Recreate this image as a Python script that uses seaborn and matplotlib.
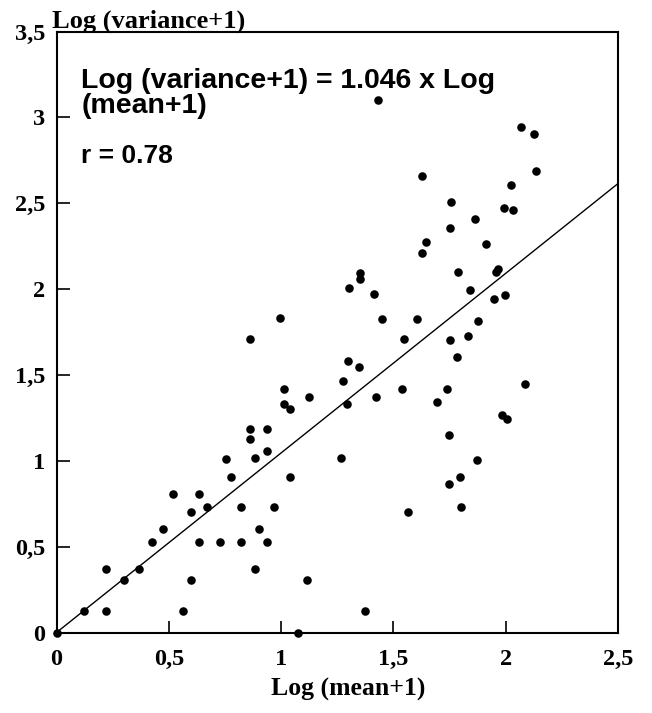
import matplotlib
matplotlib.use("Agg")
import matplotlib.pyplot as plt
import seaborn as sns
import pandas as pd
import numpy as np

log_mean = [0.000, 0.124, 0.220, 0.220, 0.300, 0.367, 0.426, 0.475, 0.520, 0.563,
            0.600, 0.600, 0.634, 0.634, 0.668, 0.726, 0.753, 0.776, 0.821, 0.821,
            0.862, 0.862, 0.862, 0.882, 0.882, 0.901, 0.936, 0.936, 0.936, 0.967,
            0.997, 1.012, 1.012, 1.039, 1.039, 1.076, 1.113, 1.122, 1.267,
            1.429, 2.068, 2.127, 2.136, 1.627, 2.022, 1.756, 1.994, 2.034, 1.862,
            1.750, 1.911, 1.647, 1.627, 1.353, 1.353, 1.304, 1.412, 1.789, 1.967,
            1.955, 1.842, 1.946, 1.996, 1.449, 1.605, 1.875, 1.549, 1.750, 1.832,
            1.783, 1.298, 1.347,
            1.276, 1.291, 1.423, 1.537, 1.740, 1.696, 2.085, 1.982, 2.005, 1.745,
            1.871, 1.795, 1.747, 1.799, 1.565, 1.372]
log_variance = [0.000, 0.127, 0.127, 0.370, 0.304, 0.370, 0.525, 0.604, 0.804, 0.127,
                0.304, 0.701, 0.804, 0.525, 0.729, 0.525, 1.013, 0.905, 0.729, 0.525,
                1.712, 1.186, 1.126, 1.016, 0.370, 0.604, 1.186, 1.055, 0.525, 0.729,
                1.832, 1.421, 1.330, 1.301, 0.905, 0.000, 0.304, 1.369, 1.016,
                3.100, 2.944, 2.902, 2.688, 2.661, 2.605, 2.510, 2.475, 2.463, 2.409,
                2.356, 2.265, 2.273, 2.213, 2.091, 2.056, 2.005, 1.974, 2.097, 2.116,
                2.097, 1.994, 1.941, 1.963, 1.823, 1.823, 1.815, 1.710, 1.703, 1.728,
                1.602, 1.582, 1.549,
                1.464, 1.330, 1.369, 1.421, 1.421, 1.343, 1.448, 1.266, 1.241, 1.148,
                1.004, 0.905, 0.866, 0.729, 0.701, 0.125]

slope = 1.046
x_ticks = [0, 0.5, 1, 1.5, 2, 2.5]
x_tick_labels = ["0", "0,5", "1", "1,5", "2", "2,5"]
y_ticks = [0, 0.5, 1, 1.5, 2, 2.5, 3, 3.5]
y_tick_labels = ["0", "0,5", "1", "1,5", "2", "2,5", "3", "3,5"]
equation_lines = ["Log (variance+1) = 1.046 x Log", "(mean+1)"]
r_text = "r = 0.78"

df = pd.DataFrame({"log_mean": log_mean, "log_variance": log_variance})
line_x = np.array([0.0, 2.5])
line_df = pd.DataFrame({"x": line_x, "y": slope * line_x})

sns.set_theme(style="white")
serif = ["Liberation Serif", "DejaVu Serif"]
sans = ["Liberation Sans", "DejaVu Sans"]

fig = plt.figure(figsize=(6.52, 7.13), dpi=100)
ax = fig.add_axes([0.0867, 0.1129, 0.8613, 0.8429])

sns.lineplot(data=line_df, x="x", y="y", ax=ax, color="black", linewidth=1.0)
sns.scatterplot(data=df, x="log_mean", y="log_variance", ax=ax, color="black",
                s=38, edgecolor="black", linewidth=0, zorder=3, clip_on=False)

ax.set_xlim(0, 2.5)
ax.set_ylim(0, 3.5)
ax.set_xticks(x_ticks)
ax.set_xticklabels(x_tick_labels, fontfamily=serif, fontweight="bold", fontsize=17.5)
ax.set_yticks(y_ticks)
ax.set_yticklabels(y_tick_labels, fontfamily=serif, fontweight="bold", fontsize=17.5)
ax.tick_params(axis="both", direction="in", length=9, width=1.2, colors="black",
               labelcolor="black", bottom=True, left=True)
ax.tick_params(axis="x", pad=12)
ax.tick_params(axis="y", pad=8)
for sp in ax.spines.values():
    sp.set_visible(True)
    sp.set_color("black")
    sp.set_linewidth(1.5)

ax.set_xlabel("")
ax.set_ylabel("")
fig.text(0.5345, 0.0238, "Log (mean+1)", fontfamily=serif, fontweight="bold",
         fontsize=18.5, color="black", ha="center", va="baseline")
fig.text(0.080, 0.962, "Log (variance+1)", fontfamily=serif, fontweight="bold",
         fontsize=19, color="black", ha="left", va="baseline")

ax.text(0.044, 0.9055, equation_lines[0], transform=ax.transAxes,
        fontfamily=sans, fontweight="bold", fontsize=20.5, color="black",
        ha="left", va="baseline")
ax.text(0.044, 0.8644, equation_lines[1], transform=ax.transAxes,
        fontfamily=sans, fontweight="bold", fontsize=20.5, color="black",
        ha="left", va="baseline")
ax.text(0.044, 0.7807, r_text, transform=ax.transAxes,
        fontfamily=sans, fontweight="bold", fontsize=19, color="black",
        ha="left", va="baseline")

fig.savefig("out.png", dpi=100)
